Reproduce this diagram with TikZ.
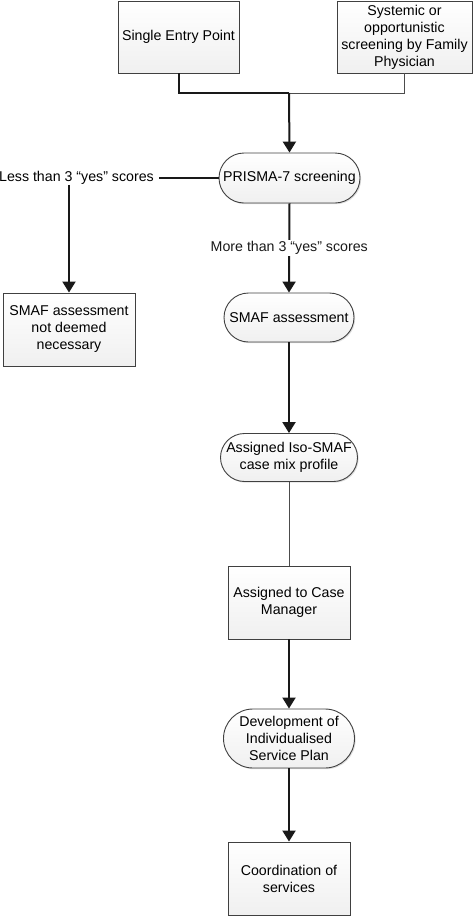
\documentclass[tikz,border=0pt]{standalone}
\usepackage{fontspec}
\setmainfont{Liberation Sans}
\usetikzlibrary{arrows.meta, shapes.misc, shadows}
\tikzset{
  box/.style={rectangle, draw=black!75, line width=0.9pt, align=center, inner sep=2pt,
    top color=white, bottom color=gray!12,
    drop shadow={shadow xshift=1.2pt, shadow yshift=-1.2pt, opacity=0.25}},
  pill/.style={rounded rectangle, draw=black!75, line width=0.9pt, align=center, inner sep=2pt,
    top color=white, bottom color=gray!12,
    drop shadow={shadow xshift=1.2pt, shadow yshift=-1.2pt, opacity=0.25}},
  arr/.style={-{Triangle[length=11pt, width=13pt]}, line width=2pt, black!90},
  thk/.style={line width=2pt, black!90},
  thn/.style={line width=0.9pt, black!70},
}
\begin{document}
\begin{tikzpicture}[x=1pt, y=-1pt, font=\fontsize{14.2}{17}\selectfont]
  \useasboundingbox (0,0) rectangle (476,919);
  % entry points
  \node[box, minimum width=121pt, minimum height=72pt] (sep) at (178.5,37) {Single Entry Point};
  \node[box, minimum width=135pt, minimum height=72pt] (fam) at (404.5,37)
    {Systemic or\\opportunistic\\screening by Family\\Physician};
  \coordinate (join) at (289,93);
  % screening
  \node[pill, minimum width=145pt, minimum height=50pt] (prisma) at (289.5,178) {PRISMA-7 screening};
  \node[anchor=east, inner xsep=5pt, inner ysep=0pt] (less) at (159,178) {Less than 3 “yes” scores};
  \node[box, minimum width=132pt, minimum height=73pt] (smafno) at (69,329.5)
    {SMAF assessment\\not deemed\\necessary};
  % main chain
  \node[pill, minimum width=134pt, minimum height=49pt] (smaf) at (289,317.5) {SMAF assessment};
  \node[pill, minimum width=141pt, minimum height=48pt] (iso) at (289,457.5)
    {Assigned Iso-SMAF\\case mix profile};
  \node[box, minimum width=122pt, minimum height=73pt] (cm) at (289,602.5)
    {Assigned to Case\\Manager};
  \node[pill, minimum width=135pt, minimum height=59pt] (dev) at (289,738.5)
    {Development of\\Individualised\\Service Plan};
  \node[box, minimum width=122pt, minimum height=73pt] (coord) at (289,878.5)
    {Coordination of\\services};
  % connectors
  \draw[thk] (sep.south) |- (join);
  \draw[thn] (fam.south) |- (join);
  \draw[arr] (join) -- (prisma.north);
  \draw[thk] (prisma.west) -- (less.east);
  \draw[arr] (less.south -| smafno.north) -- (smafno.north);
  \draw[arr] (prisma.south) -- (smaf.north)
    node[midway, fill=white, inner xsep=1pt, inner ysep=1pt] {More than 3 “yes” scores};
  \draw[arr] (smaf.south) -- (iso.north);
  \draw[thn] (iso.south) -- (cm.north);
  \draw[arr] (cm.south) -- (dev.north);
  \draw[arr] (dev.south) -- (coord.north);
\end{tikzpicture}
\end{document}
